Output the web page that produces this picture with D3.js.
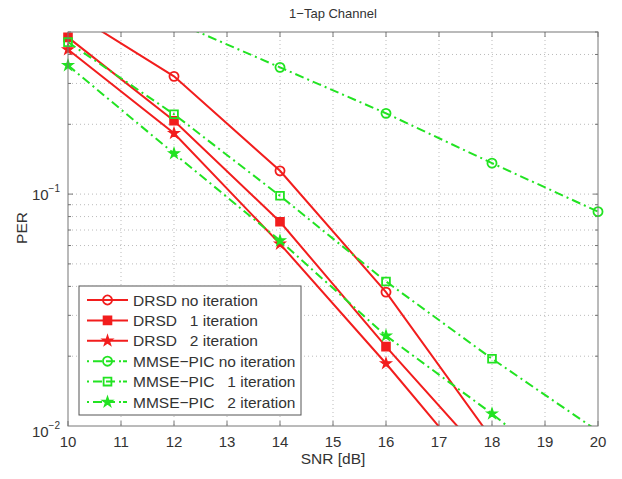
<!DOCTYPE html>
<html>
<head>
<meta charset="utf-8">
<script src="https://cdnjs.cloudflare.com/ajax/libs/d3/7.8.5/d3.min.js"></script>
<style>
  body { margin: 0; background: #fff; }
  text { font-family: "Liberation Sans", Arial, sans-serif; fill: #333; }
</style>
</head>
<body>
<svg id="chart"></svg>
<script>
var SNR = [10, 12, 14, 16, 18, 20];
var SNR_TICKS = [10, 11, 12, 13, 14, 15, 16, 17, 18, 19, 20];

// PER values (points above 0.5 / below 0.01 are clipped)
var drsdNoIter = [0.62, 0.322, 0.126, 0.0378, 0.0088, null];
var drsd1Iter = [0.474, 0.207, 0.076, 0.022, 0.0068, null];
var drsd2Iter = [0.42, 0.183, 0.061, 0.0186, 0.0053, null];
var mmseNoIter = [0.86, 0.555, 0.352, 0.223, 0.136, 0.084];
var mmse1Iter = [0.452, 0.221, 0.0983, 0.042, 0.0195, 0.0095];
var mmse2Iter = [0.359, 0.1496, 0.063, 0.0245, 0.0113, 0.0048];

var seriesNames = [
  "DRSD no iteration",
  "DRSD   1 iteration",
  "DRSD   2 iteration",
  "MMSE\u2212PIC no iteration",
  "MMSE\u2212PIC   1 iteration",
  "MMSE\u2212PIC   2 iteration"
];
var seriesValues = [drsdNoIter, drsd1Iter, drsd2Iter, mmseNoIter, mmse1Iter, mmse2Iter];
var seriesMarkers = ["circle", "square", "star", "circle", "square", "star"];
var seriesKind = ["drsd", "drsd", "drsd", "mmse", "mmse", "mmse"];

var RED = "#f21d1d";
var GREEN = "#22e322";

const margin = {top: 32, right: 24, bottom: 53, left: 68},
  W = 622, H = 479,
  width = W - margin.left - margin.right,
  height = H - margin.top - margin.bottom;

const svg = d3.select("#chart").attr("width", W).attr("height", H);
const g = svg.append("g")
  .attr("transform", "translate(" + margin.left + "," + margin.top + ")");

const x = d3.scaleLinear().domain([10, 20]).range([0, width]);
const y = d3.scaleLog().domain([0.01, 0.5]).range([height, 0]);

g.append("clipPath").attr("id", "plotclip")
  .append("rect").attr("width", width).attr("height", height);

// minor log grid values
var yGrid = [];
[0.01, 0.1].forEach(function (dec) {
  for (var k = 1; k <= 9; k++) {
    var v = dec * k;
    if (v > 0.01 && v <= 0.5 + 1e-9) yGrid.push(v);
  }
});

// grid
g.selectAll(".xgrid")
  .data(SNR_TICKS.slice(1, -1))
  .enter().append("line")
  .attr("x1", (d) => x(d)).attr("x2", (d) => x(d))
  .attr("y1", 0).attr("y2", height)
  .attr("stroke", "#bbb").attr("stroke-width", 1)
  .attr("stroke-dasharray", "1,3");

g.selectAll(".ygrid")
  .data(yGrid.filter((d) => d < 0.5))
  .enter().append("line")
  .attr("x1", 0).attr("x2", width)
  .attr("y1", (d) => y(d)).attr("y2", (d) => y(d))
  .attr("stroke", "#bbb").attr("stroke-width", 1)
  .attr("stroke-dasharray", "1,3");

// ticks (inside, matlab-like)
g.selectAll(".xtickb")
  .data(SNR_TICKS)
  .enter().append("line")
  .attr("x1", (d) => x(d)).attr("x2", (d) => x(d))
  .attr("y1", height).attr("y2", height - 5)
  .attr("stroke", "#777");
g.selectAll(".xtickt")
  .data(SNR_TICKS)
  .enter().append("line")
  .attr("x1", (d) => x(d)).attr("x2", (d) => x(d))
  .attr("y1", 0).attr("y2", 5)
  .attr("stroke", "#777");
g.selectAll(".ytick")
  .data(yGrid)
  .enter().append("line")
  .attr("x1", 0).attr("x2", (d) => (d === 0.1 ? 5 : 3))
  .attr("y1", (d) => y(d)).attr("y2", (d) => y(d))
  .attr("stroke", "#777");
g.selectAll(".ytickr")
  .data(yGrid)
  .enter().append("line")
  .attr("x1", width).attr("x2", (d) => width - (d === 0.1 ? 5 : 3))
  .attr("y1", (d) => y(d)).attr("y2", (d) => y(d))
  .attr("stroke", "#777");

// tick labels
g.selectAll(".xlab")
  .data(SNR_TICKS)
  .enter().append("text")
  .attr("x", (d) => x(d))
  .attr("y", height + 21)
  .attr("text-anchor", "middle")
  .style("font-size", "15px")
  .text((d) => d);

var yLabels = [0.1, 0.01];
var ylab = g.selectAll(".ylab")
  .data(yLabels)
  .enter().append("text")
  .attr("x", -8)
  .attr("y", (d) => y(d) + (d === 0.01 ? 11 : 6))
  .attr("text-anchor", "end")
  .style("font-size", "15px");
ylab.append("tspan").text("10");
ylab.append("tspan")
  .attr("dy", -8)
  .style("font-size", "10px")
  .text((d) => "\u2212" + Math.round(-Math.log10(d)));

// series
var line = d3.line()
  .defined((d) => d.v != null)
  .x((d) => x(d.snr))
  .y((d) => y(d.v));

const plot = g.append("g");

function markerPath(kind, size) {
  if (kind === "circle") return d3.symbol(d3.symbolCircle, size * size * 0.8)();
  if (kind === "square") return d3.symbol(d3.symbolSquare, size * size * 0.75)();
  return d3.symbol(d3.symbolStar, size * size * 0.42)();
}

function styleMarker(sel, kind, color, series) {
  sel.attr("d", markerPath(kind, 9))
    .attr("stroke", color)
    .attr("stroke-width", kind === "star" ? 1.2 : 1.8)
    .attr("fill", (kind === "star" || (kind === "square" && series === "drsd")) ? color : "none");
}

seriesValues.forEach(function (vals, i) {
  var color = seriesKind[i] === "drsd" ? RED : GREEN;
  var pts = SNR.map((s, j) => ({snr: s, v: vals[j]}));
  var path = plot.append("path")
    .datum(pts)
    .attr("clip-path", "url(#plotclip)")
    .attr("fill", "none")
    .attr("stroke", color)
    .attr("stroke-width", 2)
    .attr("d", line);
  if (seriesKind[i] === "mmse") path.attr("stroke-dasharray", "9,4,2,4");

  plot.selectAll(".m" + i)
    .data(pts.filter((d) => d.v != null && d.v >= 0.01 && d.v <= 0.5))
    .enter().append("path")
    .attr("transform", (d) => "translate(" + x(d.snr) + "," + y(d.v) + ")")
    .call(styleMarker, seriesMarkers[i], color, seriesKind[i]);
});

// axes box
g.append("rect")
  .attr("width", width).attr("height", height)
  .attr("fill", "none").attr("stroke", "#777").attr("stroke-width", 1);

// legend
const legend = g.append("g").attr("transform", "translate(11,254)");
legend.append("rect")
  .attr("width", 222).attr("height", 129)
  .attr("fill", "#fff").attr("stroke", "#555").attr("stroke-width", 1);

const items = legend.selectAll(".legend")
  .data(seriesNames)
  .enter().append("g")
  .attr("class", "legend")
  .attr("transform", (d, i) => "translate(0," + (14 + i * 20.4) + ")");

items.append("line")
  .attr("x1", 8).attr("x2", 49)
  .attr("stroke", (d, i) => (seriesKind[i] === "drsd" ? RED : GREEN))
  .attr("stroke-width", 2)
  .attr("stroke-dasharray", (d, i) => (seriesKind[i] === "mmse" ? "2,4,9,4,9,4,2" : null));

items.each(function (d, i) {
  d3.select(this).append("path")
    .attr("transform", "translate(28.5,0)")
    .call(styleMarker, seriesMarkers[i], seriesKind[i] === "drsd" ? RED : GREEN,
      seriesKind[i] === "drsd" ? "drsd" : "legend");
});

items.append("text")
  .attr("x", 54)
  .attr("y", 5.5)
  .style("font-size", "15.5px")
  .style("white-space", "pre")
  .text((d) => d);

// titles
svg.append("text")
  .attr("x", margin.left + width / 2)
  .attr("y", 18)
  .attr("text-anchor", "middle")
  .style("font-size", "13px")
  .text("1\u2212Tap Channel");

svg.append("text")
  .attr("x", margin.left + width / 2)
  .attr("y", 464)
  .attr("text-anchor", "middle")
  .style("font-size", "15.5px")
  .text("SNR [dB]");

svg.append("text")
  .attr("transform", "translate(27," + 228 + ") rotate(-90)")
  .attr("text-anchor", "middle")
  .style("font-size", "15.5px")
  .text("PER");
</script>
</body>
</html>
